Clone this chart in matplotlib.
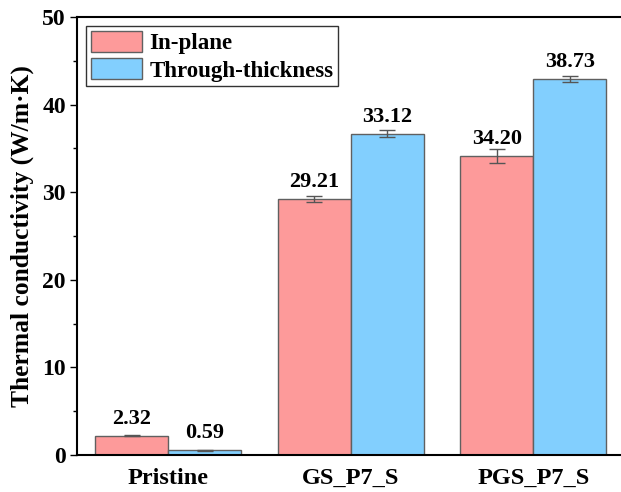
import numpy as np
import matplotlib
matplotlib.use('Agg')
import matplotlib.pyplot as plt

plt.rcParams['font.family'] = 'Liberation Serif'
plt.rcParams['font.weight'] = 'bold'

categories = ['Pristine', 'GS_P7_S', 'PGS_P7_S']
in_plane = [2.2, 29.2, 34.1]
in_plane_err = [0.05, 0.35, 0.8]
through = [0.55, 36.7, 42.95]
through_err = [0.04, 0.42, 0.35]
in_plane_txt = ['2.32', '29.21', '34.20']
through_txt = ['0.59', '33.12', '38.73']

red = '#fd9a9a'
blue = '#82cffe'
edge = '#606060'

fig = plt.figure(figsize=(6.21, 4.92), dpi=100)
# right spine sits just outside the picture, as in the source figure
ax = fig.add_axes([77/621, 37/492, 560/621, 438/492])

x = np.arange(len(categories))
w = 0.4
ekw = dict(ecolor='#555555', elinewidth=1, capsize=6, capthick=1)
ax.bar(x - w/2, in_plane, w, yerr=in_plane_err, color=red, edgecolor=edge,
       linewidth=1, error_kw=ekw, label='In-plane')
ax.bar(x + w/2, through, w, yerr=through_err, color=blue, edgecolor=edge,
       linewidth=1, error_kw=ekw, label='Through-thickness')

for xi, h, t in zip(x - w/2, in_plane, in_plane_txt):
    ax.annotate(t, (xi, h), xytext=(0, 5), textcoords='offset points',
                ha='center', va='bottom', fontsize=16, fontweight='bold')
for xi, h, t in zip(x + w/2, through, through_txt):
    ax.annotate(t, (xi, h), xytext=(0, 5), textcoords='offset points',
                ha='center', va='bottom', fontsize=16, fontweight='bold')

ax.set_xlim(-0.5, -0.5 + 560/182.5)
ax.set_ylim(0, 50)
ax.set_xticks(x)
ax.set_xticklabels(categories, fontsize=17.5, fontweight='bold')
ax.set_yticks([0, 10, 20, 30, 40, 50])
ax.set_yticks([5, 15, 25, 35, 45], minor=True)
ax.tick_params(axis='y', which='major', direction='out', length=5, width=1,
               labelsize=17, pad=3)
ax.tick_params(axis='y', which='minor', direction='out', length=3, width=1)
ax.tick_params(axis='x', length=0, pad=9)
for s in ax.spines.values():
    s.set_linewidth(1.5)
ax.set_ylabel('Thermal conductivity (W/m·K)', fontsize=18.4, fontweight='bold',
              labelpad=6)

leg = ax.legend(loc='upper left', fontsize=16.5, frameon=True, fancybox=False,
                edgecolor='black', handlelength=2.25, handleheight=1.05,
                borderpad=0.2, labelspacing=0.17, handletextpad=0.3,
                borderaxespad=0.4)
leg.get_frame().set_linewidth(1)

fig.savefig('out.png', dpi=100)
